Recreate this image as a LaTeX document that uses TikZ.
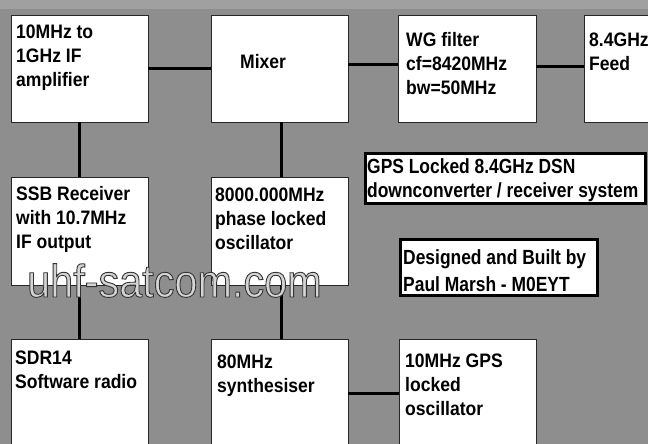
\documentclass[tikz,border=0pt]{standalone}
\usepackage{fontspec}
\setmainfont{Liberation Sans}
\newfontfamily\boxfont[FakeStretch=0.9]{Liberation Sans}
\newfontfamily\gpsfont[FakeStretch=0.85]{Liberation Sans}
\newfontfamily\wmfont[FakeStretch=0.9]{Liberation Sans}
\usetikzlibrary{calc}
\definecolor{bg}{RGB}{142,142,142}
\definecolor{topbg}{RGB}{160,160,160}
\definecolor{wmfill}{RGB}{212,212,212}
\definecolor{wmedge}{RGB}{50,50,50}
\newcommand\rows[1]{\begin{tabular}[t]{@{}l@{}}#1\end{tabular}}
\newcommand\outlined[1]{\special{pdf:literal direct 0.2 0.2 0.2 RG 0.9 w 2 Tr}#1\special{pdf:literal direct 0 Tr}}
\begin{document}
\begin{tikzpicture}[x=1pt,y=-1pt,
  blk/.style={draw=black!85,line width=0.9pt,fill=white,inner sep=0pt,outer sep=0pt,anchor=north west},
  tag/.style={draw=black,line width=3pt,fill=white,inner sep=0pt,outer sep=0pt,anchor=north west},
  btxt/.style={anchor=base west,inner sep=0pt,font=\boxfont\bfseries\fontsize{19.5}{24}\selectfont},
  gtxt/.style={anchor=base west,inner sep=0pt,font=\gpsfont\bfseries\fontsize{20.5}{24}\selectfont},
  dtxt/.style={anchor=base west,inner sep=0pt,font=\gpsfont\bfseries\fontsize{20.5}{27}\selectfont},
  wm/.style={anchor=base west,inner sep=0pt,font=\wmfont\fontsize{46}{46}\selectfont},
  wire/.style={line width=3pt,black}]
\useasboundingbox (0,0) rectangle (648,444);
\clip (0,0) rectangle (648,444);
\fill[bg] (0,0) rectangle (648,444);
\fill[topbg] (0,0) rectangle (648,9);

% blocks
\node[blk,minimum width=137pt,minimum height=107pt] (ifa) at (11,15) {};
\node[blk,minimum width=137pt,minimum height=107pt] (mix) at (211,15) {};
\node[blk,minimum width=138pt,minimum height=107pt] (wg) at (398,15) {};
\node[blk,minimum width=80pt,minimum height=107pt] (feed) at (584,15) {};
\node[blk,minimum width=137pt,minimum height=108pt] (ssb) at (11,177) {};
\node[blk,minimum width=137pt,minimum height=108pt] (plo) at (211,177) {};
\node[blk,minimum width=137pt,minimum height=120pt] (sdr) at (11,339) {};
\node[blk,minimum width=137pt,minimum height=120pt] (syn) at (211,339) {};
\node[blk,minimum width=137pt,minimum height=120pt] (gpso) at (399,339) {};

% labels
\node[tag,minimum width=280.5pt,minimum height=50pt] (gpstag) at (365,153.5) {};
\node[tag,minimum width=197pt,minimum height=56pt] (destag) at (400.5,239.5) {};

% connectors
\draw[wire] (ifa.east) -- (mix.west);
\draw[wire] ([yshift=3.5pt]mix.east) -- ([yshift=3.5pt]wg.west);
\draw[wire] ([yshift=1.5pt]wg.east) -- ([yshift=1.5pt]feed.west);
\draw[wire] (ifa.south) -- (ssb.north);
\draw[wire] (ssb.south) -- (sdr.north);
\draw[wire] ([xshift=1.5pt]mix.south) -- ([xshift=1.5pt]plo.north);
\draw[wire] ([xshift=1.5pt]plo.south) -- ([xshift=1.5pt]syn.north);
\draw[wire] ([yshift=6pt]syn.east) -- ([yshift=6pt]gpso.west);

% texts
\node[btxt] (ifaT) at (16,39) {\rows{10MHz to\\1GHz IF\\amplifier}};
\node[btxt] (mixT) at (240,69) {Mixer};
\node[btxt] (wgT) at (406,47) {\rows{WG filter\\cf=8420MHz\\bw=50MHz}};
\node[btxt] (feedT) at (589,47) {\rows{8.4GHz\\Feed}};
\node[btxt] (ssbT) at (16,200) {\rows{SSB Receiver\\with 10.7MHz\\IF output}};
\node[btxt] (ploT) at (215,201) {\rows{8000.000MHz\\phase locked\\oscillator}};
\node[btxt] (sdrT) at (15,364) {\rows{SDR14\\Software radio}};
\node[btxt] (synT) at (217,368) {\rows{80MHz\\synthesiser}};
\node[btxt] (gpsoT) at (405,367) {\rows{10MHz GPS\\locked\\oscillator}};
\node[gtxt] (gpsT) at (367,173) {\rows{GPS Locked 8.4GHz DSN\\downconverter / receiver system}};
\node[dtxt] (desT) at (403,264) {\rows{Designed and Built by\\Paul Marsh - M0EYT}};

% watermark
\node[wm,text=wmfill] (wm) at (27,297) {\outlined{uhf-satcom.com}};
\end{tikzpicture}
\end{document}
